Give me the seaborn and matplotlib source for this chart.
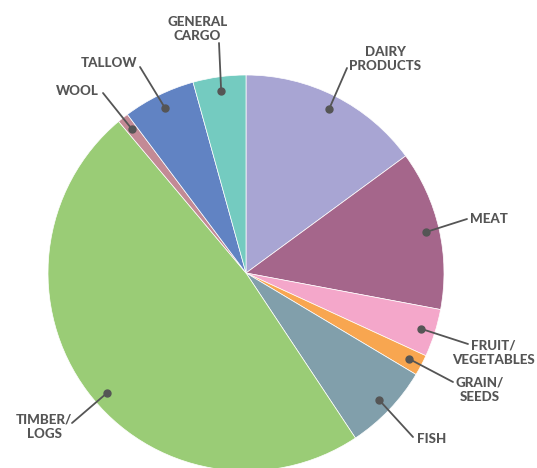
import matplotlib
matplotlib.use("Agg")
import matplotlib.pyplot as plt
import numpy as np
import seaborn as sns

sns.set_theme(style="white")
plt.rcParams["font.family"] = ["Lato", "DejaVu Sans"]

categories = ["DAIRY\nPRODUCTS", "MEAT", "FRUIT/\nVEGETABLES", "GRAIN/\nSEEDS", "FISH",
              "TIMBER/\nLOGS", "WOOL", "TALLOW", "GENERAL\nCARGO"]
shares = [14.9, 13.0, 3.9, 1.7, 7.1, 48.1, 0.9, 5.9, 4.3]
colors = ["#A8A5D3", "#A5668B", "#F4A7CA", "#F8A650", "#819FAB",
          "#9ACC76", "#C38A95", "#6183C3", "#74CBC0"]

W, H = 537, 468
CX, CY, R = 246, 273, 198


def px(x, y):
    """Pixel position -> data coordinates (pie centred at 0,0 with radius 1)."""
    return (x - CX) / R, (CY - y) / R


# label placement: (text anchor px, ha, leader end px, dot angle tweak in degrees)
label_layout = [
    ((385, 59), "center", (347, 68), 0),
    ((470, 219), "left", (467, 219), 0),
    ((493, 353), "center", (468, 344), 0),
    ((480, 390), "center", (453, 382), 0),
    ((417, 439), "left", (413, 437), 0),
    ((44, 427), "center", (72, 423), 4),
    ((99, 91), "right", (103, 93), 0),
    ((137, 63), "right", (140, 67), 0),
    ((197.5, 29), "center", (219, 43), 0),
]

fig = plt.figure(figsize=(W / 100, H / 100), dpi=100)
ax = fig.add_axes([0, 0, 1, 1])
wedges, _ = ax.pie(shares, colors=colors, startangle=90, counterclock=False,
                   radius=1.0, wedgeprops=dict(edgecolor="white", linewidth=0.5))
ax.set_xlim(px(0, 0)[0], px(W, 0)[0])
ax.set_ylim(px(0, H)[1], px(0, 0)[1])
ax.set_aspect("auto")
ax.axis("off")

text_color = "#555555"
for wedge, name, (tpos, ha, lend, tweak) in zip(wedges, categories, label_layout):
    mid = np.deg2rad((wedge.theta1 + wedge.theta2) / 2 + tweak)
    dx, dy = 0.93 * np.cos(mid), 0.93 * np.sin(mid)
    ex, ey = px(*lend)
    ax.plot([dx, ex], [dy, ey], color="#555555", lw=1.3, solid_capstyle="round", zorder=3)
    ax.plot([dx], [dy], "o", color="#555555", ms=5, zorder=4)
    tx, ty = px(*tpos)
    ax.text(tx, ty, name, ha=ha, va="center", multialignment="center",
            fontsize=9.6, fontweight="black", color=text_color, linespacing=1.22)

fig.savefig("out.png", dpi=100, facecolor="white")
